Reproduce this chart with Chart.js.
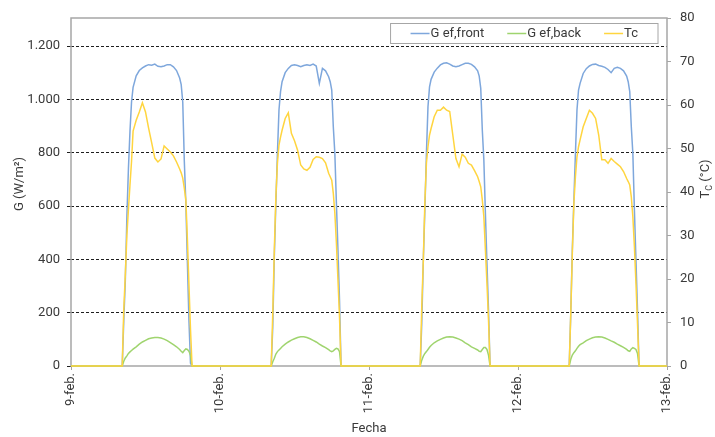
<!DOCTYPE html>
<html>
<head>
<meta charset="utf-8">
<script src="https://cdn.jsdelivr.net/npm/chart.js@4/dist/chart.umd.min.js"></script>
<style>
html, body { margin: 0; padding: 0; background: #fff; }
</style>
</head>
<body>
<canvas id="myChart" width="715" height="437"></canvas>
<script>
// hour of day for each sample (same grid used for every day)
const dayHours = [0, 8.25, 8.5, 8.75, 9, 9.25, 9.5, 9.75, 10, 10.5, 11, 11.5, 12, 12.5, 13, 13.5,
    14, 14.5, 15, 15.5, 16, 16.5, 17, 17.5, 17.75, 18, 18.25, 18.5, 18.75, 19, 19.25, 19.5];

const dayLabels = ['9-feb.', '10-feb.', '11-feb.', '12-feb.', '13-feb.'];

// G ef,front (W/m2), one row per day
const gFront = [
    [0, 0, 170, 320, 560, 740, 880, 990, 1045, 1088, 1108, 1118, 1125, 1130, 1128, 1132, 1124, 1122, 1125, 1130, 1130, 1122, 1108, 1080, 1055, 990, 770, 610, 385, 170, 10, 0],
    [0, 0, 147, 410, 610, 797, 960, 1029, 1066, 1100, 1116, 1127, 1130, 1127, 1122, 1127, 1130, 1127, 1132, 1125, 1060, 1116, 1107, 1085, 1066, 1035, 897, 797, 610, 435, 247, 0],
    [0, 0, 160, 397, 585, 797, 972, 1047, 1075, 1102, 1117, 1129, 1135, 1137, 1132, 1125, 1122, 1125, 1130, 1135, 1135, 1131, 1122, 1107, 1087, 1041, 885, 772, 572, 385, 210, 0],
    [0, 0, 197, 435, 622, 797, 960, 1035, 1060, 1097, 1115, 1125, 1131, 1132, 1127, 1124, 1120, 1112, 1100, 1116, 1120, 1116, 1107, 1087, 1066, 1029, 897, 797, 585, 397, 210, 0]
];

// G ef,back (W/m2)
const gBack = [
    [0, 0, 18, 30, 38, 47, 53, 58, 63, 72, 82, 90, 96, 102, 105, 107, 107, 105, 101, 95, 88, 80, 72, 62, 55, 50, 58, 64, 62, 55, 40, 0],
    [0, 0, 16, 29, 45, 54, 60, 66, 72, 82, 90, 97, 102, 107, 110, 110, 107, 102, 96, 90, 82, 75, 69, 61, 57, 54, 57, 62, 66, 64, 54, 0],
    [0, 0, 22, 37, 47, 54, 62, 70, 77, 87, 94, 100, 105, 109, 110, 109, 105, 101, 95, 87, 80, 72, 66, 60, 55, 54, 62, 69, 69, 62, 41, 0],
    [0, 0, 25, 41, 50, 57, 66, 74, 80, 87, 95, 101, 106, 109, 110, 109, 105, 100, 94, 89, 82, 76, 70, 62, 57, 55, 64, 69, 66, 62, 47, 0]
];

// Tc (°C)
const tCell = [
    [0, 0, 13, 21, 30, 36, 41.6, 47, 54, 56.5, 58.4, 60.5, 58.4, 54.7, 51.3, 47.8, 46.9, 47.6, 50.6, 49.9, 49.2, 48.3, 46.9, 45.3, 44.4, 43.2, 40.9, 38.2, 29, 18.6, 8.3, 0],
    [0, 0, 12.1, 26.7, 38.9, 46.6, 50.8, 52.6, 54.2, 56.9, 58.2, 53.5, 51.8, 49.6, 46.2, 45.3, 45.0, 45.7, 47.5, 48.1, 48.0, 47.7, 46.7, 44.3, 43.5, 42.7, 39.7, 35.1, 28.2, 19.8, 11.3, 0],
    [0, 0, 13.6, 24.4, 37.8, 46.6, 50.4, 53.1, 54.6, 57.3, 58.8, 58.8, 59.5, 58.8, 58.5, 53.1, 47.7, 45.8, 48.7, 48.0, 46.6, 46.2, 44.9, 43.5, 42.4, 41.2, 38.2, 34.3, 26.7, 19.0, 10.6, 0],
    [0, 0, 12.1, 25.9, 37.4, 43.5, 48.1, 50.4, 52.0, 55.0, 56.9, 58.8, 58.1, 56.9, 53.1, 47.4, 47.4, 46.6, 47.7, 47.0, 46.4, 45.8, 44.7, 43.1, 42.4, 41.6, 38.9, 34.3, 27.4, 19.0, 9.8, 0]
];

const gTicks = [0, 200, 400, 600, 800, 1000, 1200];

function toPoints(rows) {
    const pts = [];
    rows.forEach((row, d) => {
        row.forEach((v, i) => pts.push({x: d * 24 + dayHours[i], y: v}));
    });
    pts.push({x: rows.length * 24, y: 0});
    return pts;
}

const FONT = 'Roboto';
const TXT = '#3a3a3a';
const FRAME = '#a6a6a6';

const framePlugin = {
    id: 'frame',
    beforeDatasetsDraw(chart) {
        const {ctx, chartArea: a} = chart;
        ctx.save();
        ctx.strokeStyle = FRAME;
        ctx.lineWidth = 1.5;
        ctx.strokeRect(a.left, a.top, a.right - a.left, a.bottom - a.top);
        ctx.restore();
    },
    afterDraw(chart) {
        const {ctx} = chart;
        ctx.save();
        ctx.fillStyle = TXT;
        ctx.textBaseline = 'middle';

        // left axis title
        ctx.save();
        ctx.translate(20, 184);
        ctx.rotate(-Math.PI / 2);
        ctx.font = '13px ' + FONT;
        ctx.textAlign = 'center';
        ctx.fillText('G (W/m²)', 0, 0);
        ctx.restore();

        // right axis title with subscript
        ctx.save();
        ctx.translate(706, 179);
        ctx.rotate(-Math.PI / 2);
        ctx.textAlign = 'left';
        ctx.font = '13px ' + FONT;
        const wT = ctx.measureText('T').width;
        const wRest = ctx.measureText(' (°C)').width;
        ctx.font = '9px ' + FONT;
        const wC = ctx.measureText('C').width;
        let x = -(wT + wC + wRest) / 2;
        ctx.font = '13px ' + FONT;
        ctx.fillText('T', x, 0);
        x += wT;
        ctx.font = '9px ' + FONT;
        ctx.fillText('C', x, 4);
        x += wC;
        ctx.font = '13px ' + FONT;
        ctx.fillText(' (°C)', x, 0);
        ctx.restore();

        // legend box
        ctx.font = '13px ' + FONT;
        const items = chart.data.datasets.map(ds => ({label: ds.label, color: ds.borderColor}));
        const lineLen = 19, gap = 23, pad = 20;
        let total = 0;
        items.forEach((it, i) => {
            it.w = ctx.measureText(it.label).width;
            total += lineLen + 1 + it.w + (i < items.length - 1 ? gap : 0);
        });
        const boxR = 658, boxW = total + pad * 2, boxT = 23.5, boxH = 20;
        const boxL = boxR - boxW;
        ctx.fillStyle = '#fff';
        ctx.fillRect(boxL, boxT, boxW, boxH);
        ctx.strokeStyle = FRAME;
        ctx.lineWidth = 1;
        ctx.strokeRect(boxL, boxT, boxW, boxH);
        let lx = boxL + pad;
        const ly = boxT + boxH / 2;
        items.forEach(it => {
            ctx.strokeStyle = it.color;
            ctx.lineWidth = 1.5;
            ctx.beginPath();
            ctx.moveTo(lx, ly);
            ctx.lineTo(lx + lineLen, ly);
            ctx.stroke();
            ctx.fillStyle = TXT;
            ctx.textAlign = 'left';
            ctx.fillText(it.label, lx + lineLen + 1, ly);
            lx += lineLen + 1 + it.w + gap;
        });
        ctx.restore();
    }
};

const data = {
    datasets: [{
        label: 'G ef,front',
        data: toPoints(gFront),
        borderColor: '#7ea7dc',
        yAxisID: 'y',
        clip: false,
        order: 2
    }, {
        label: 'G ef,back',
        data: toPoints(gBack),
        borderColor: '#9fd46e',
        yAxisID: 'y',
        clip: false,
        order: 1
    }, {
        label: 'Tc',
        data: toPoints(tCell),
        borderColor: '#ffd53f',
        yAxisID: 'y2',
        clip: false,
        order: 0
    }]
};

const tickFont = {family: FONT, size: 13};

const config = {
    type: 'line',
    data: data,
    options: {
        responsive: false,
        animation: false,
        layout: {padding: {top: 18, left: 0, right: 0, bottom: 0}},
        elements: {
            point: {radius: 0},
            line: {borderWidth: 1.5, tension: 0, fill: false}
        },
        plugins: {
            legend: {display: false},
            tooltip: {enabled: false}
        },
        scales: {
            x: {
                type: 'linear',
                min: 0,
                max: 96,
                afterBuildTicks: axis => {
                    axis.ticks = dayLabels.map((l, i) => ({value: i * 24}));
                },
                afterFit: axis => { axis.height = 71; },
                ticks: {
                    font: tickFont,
                    color: TXT,
                    minRotation: 90,
                    maxRotation: 90,
                    padding: 3,
                    callback: (v) => dayLabels[Math.round(v / 24)]
                },
                grid: {drawOnChartArea: false, tickLength: 4, tickColor: FRAME},
                border: {display: false},
                title: {
                    display: true,
                    text: 'Fecha',
                    font: {family: FONT, size: 13},
                    color: TXT,
                    padding: {top: 0, bottom: 0}
                }
            },
            y: {
                position: 'left',
                min: 0,
                max: 1305,
                afterBuildTicks: axis => {
                    axis.ticks = gTicks.map(v => ({value: v}));
                },
                afterFit: axis => { axis.width = 71; },
                ticks: {
                    font: tickFont,
                    color: TXT,
                    padding: 7,
                    callback: v => String(v).replace(/\B(?=(\d{3})+(?!\d))/g, '.')
                },
                grid: {
                    color: ctx => ctx.tick && ctx.tick.value === 0 ? 'rgba(0,0,0,0)' : '#1e1e1e',
                    lineWidth: 1,
                    tickLength: 4,
                    tickColor: '#1e1e1e'
                },
                border: {display: false, dash: [3, 2]}
            },
            y2: {
                position: 'right',
                min: 0,
                max: 80,
                ticks: {
                    stepSize: 10,
                    font: tickFont,
                    color: TXT,
                    padding: 9
                },
                afterFit: axis => { axis.width = 48; },
                grid: {drawOnChartArea: false, tickLength: 4, tickColor: FRAME},
                border: {display: false}
            }
        }
    },
    plugins: [framePlugin]
};

var myChart = new Chart(
    document.getElementById('myChart'),
    config
);
</script>
</body>
</html>
